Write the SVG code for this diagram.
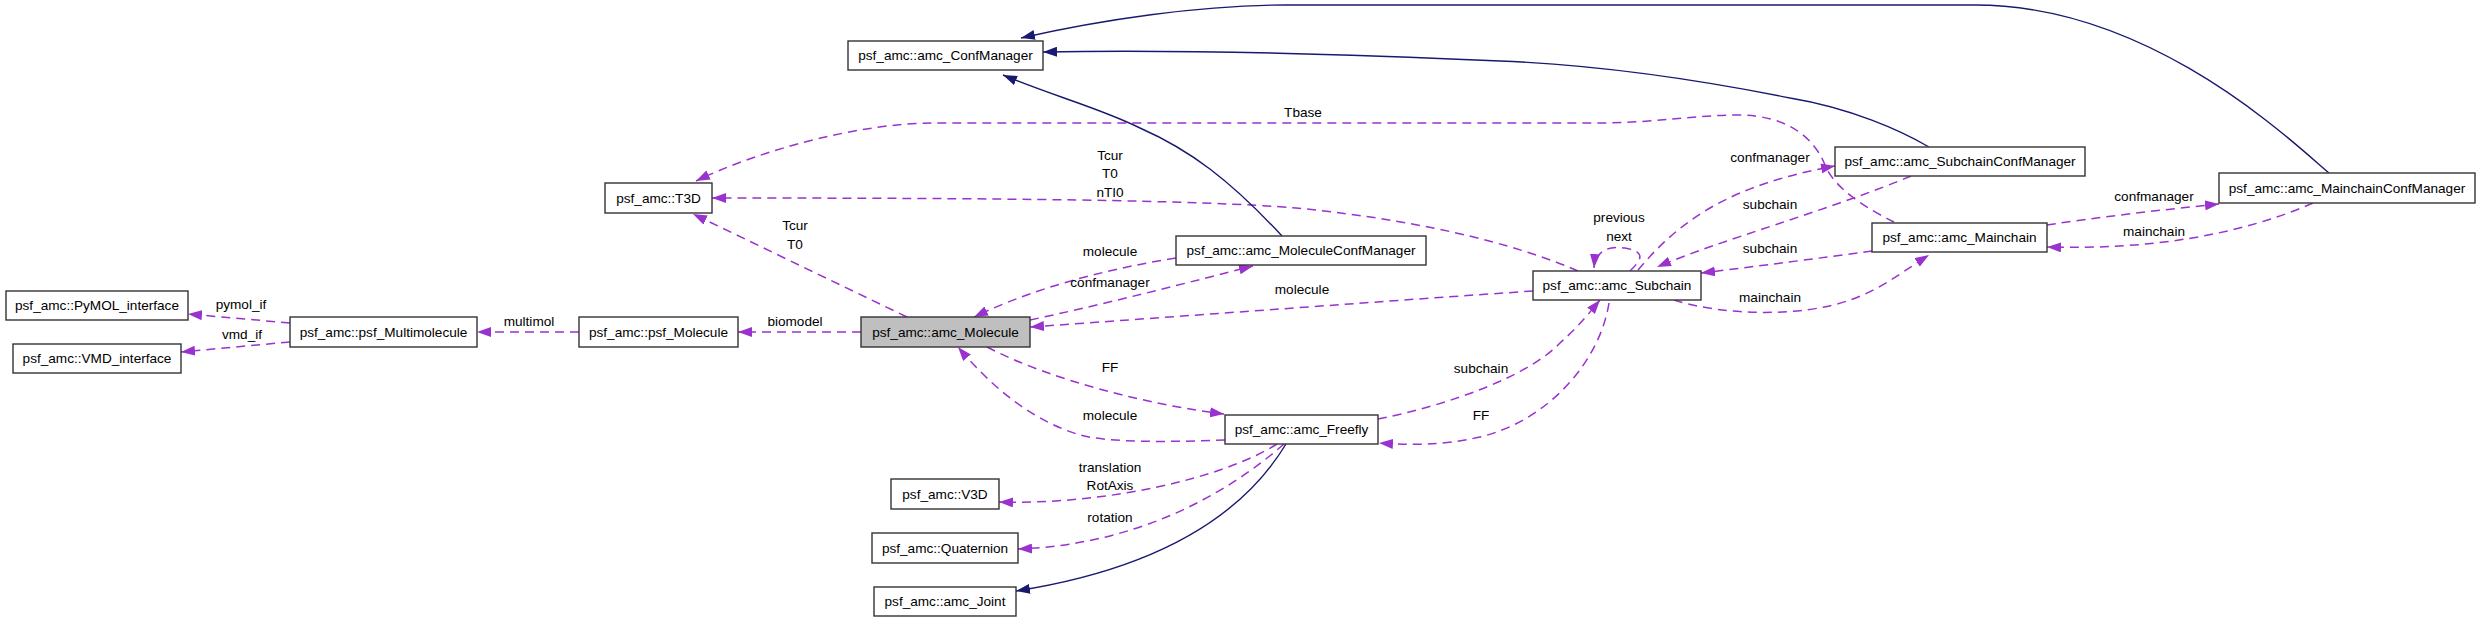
<svg xmlns="http://www.w3.org/2000/svg" width="2480" height="621" viewBox="0 0 2480 621">
<defs>
<style>
.box{fill:#ffffff;stroke:#333333;stroke-width:1.4}
.cur{fill:#bfbfbf;stroke:#333333;stroke-width:1.4}
text{font-family:"Liberation Sans",Arial,sans-serif;font-size:13.6px;fill:#000000;text-anchor:middle}
.dep{fill:none;stroke:#9a32cd;stroke-width:1.5;stroke-dasharray:9,6;marker-end:url(#pa)}
.inh{fill:none;stroke:#191970;stroke-width:1.4;marker-end:url(#na)}
</style>
<marker id="pa" viewBox="0 0 14 10" refX="14" refY="5" markerWidth="14" markerHeight="10" markerUnits="userSpaceOnUse" orient="auto"><path d="M0,0 L14,5 L0,10 z" fill="#9a32cd"/></marker>
<marker id="na" viewBox="0 0 14 10" refX="14" refY="5" markerWidth="14" markerHeight="10" markerUnits="userSpaceOnUse" orient="auto"><path d="M0,0 L14,5 L0,10 z" fill="#191970"/></marker>
</defs>
<rect width="2480" height="621" fill="#ffffff"/>
<g id="connectors">
<path class="dep" d="M290,323 L188,314"/>
<path class="dep" d="M290,342 L181,352"/>
<path class="dep" d="M579,332 L477,332"/>
<path class="dep" d="M861,332 L738,332"/>
<path class="dep" d="M907,317 L693,214"/>
<path class="dep" d="M1894,222 C1870,210 1835,190 1825,165 C1815,140 1790,115 1737,115 C1700,115 1650,123 1600,123 L934,123 C860,123 760,150 696,181"/>
<path class="dep" d="M1578,271 C1530,250 1440,222 1296,208 C1200,200 1000,198 712,198"/>
<path class="inh" d="M1929,147 C1900,130 1850,108 1790,98 C1700,80 1600,65 1500,61 C1300,52 1150,50 1043,52"/>
<path class="inh" d="M2329,173 C2290,140 2150,5 1975,5 L1286,5 C1200,5 1100,20 1021,38"/>
<path class="inh" d="M1282,236 C1230,180 1190,150 1140,128 C1100,108 1050,95 1003,75"/>
<path class="dep" d="M1176,258 C1100,270 1030,290 974,317"/>
<path class="dep" d="M1030,320 C1110,303 1190,282 1253,266"/>
<path class="dep" d="M1533,291 C1400,300 1200,315 1030,327"/>
<path class="dep" d="M987,347 C1050,380 1150,405 1224,414"/>
<path class="dep" d="M1225,440 C1170,442 1110,443 1080,435 C1030,420 990,385 958,347"/>
<path class="dep" d="M1378,419 C1450,405 1530,375 1560,343 C1580,325 1590,312 1600,300"/>
<path class="dep" d="M1609,303 C1600,360 1550,420 1480,437 C1440,446 1410,445 1379,443"/>
<path class="dep" d="M1277,444 C1220,480 1100,505 999,502"/>
<path class="dep" d="M1284,444 C1220,500 1130,545 1018,549"/>
<path class="inh" d="M1286,444 C1240,520 1150,570 1016,591"/>
<path class="dep" d="M1638,270 C1680,220 1730,185 1835,166"/>
<path class="dep" d="M1911,176 C1830,210 1720,240 1657,267"/>
<path class="dep" d="M1630,271 C1640,261 1648,252 1625,248 C1605,245 1595,254 1594,268"/>
<path class="dep" d="M1872,251 C1820,258 1760,266 1701,273"/>
<path class="dep" d="M1674,300 C1720,315 1800,318 1850,300 C1880,290 1905,270 1929,255"/>
<path class="dep" d="M2047,225 C2100,217 2160,210 2219,204"/>
<path class="dep" d="M2313,203 C2240,235 2150,250 2047,247"/>
<text x="241" y="309">pymol_if</text>
<text x="242" y="339">vmd_if</text>
<text x="529" y="326">multimol</text>
<text x="795" y="326">biomodel</text>
<text x="795" y="230">Tcur</text>
<text x="795" y="249">T0</text>
<text x="1303" y="117">Tbase</text>
<text x="1110" y="160">Tcur</text>
<text x="1110" y="178">T0</text>
<text x="1110" y="197">nTI0</text>
<text x="1110" y="256">molecule</text>
<text x="1110" y="287">confmanager</text>
<text x="1302" y="294">molecule</text>
<text x="1110" y="372">FF</text>
<text x="1481" y="373">subchain</text>
<text x="1110" y="420">molecule</text>
<text x="1481" y="420">FF</text>
<text x="1110" y="472">translation</text>
<text x="1110" y="490">RotAxis</text>
<text x="1110" y="522">rotation</text>
<text x="1770" y="162">confmanager</text>
<text x="1770" y="209">subchain</text>
<text x="1619" y="222">previous</text>
<text x="1619" y="241">next</text>
<text x="1770" y="253">subchain</text>
<text x="1770" y="302">mainchain</text>
<text x="2154" y="201">confmanager</text>
<text x="2154" y="236">mainchain</text>
</g>
<g id="n_pymol"><rect class="box" x="6" y="291" width="182" height="29"/><text x="97" y="310">psf_amc::PyMOL_interface</text></g>
<g id="n_vmd"><rect class="box" x="13" y="344" width="168" height="29"/><text x="97" y="363">psf_amc::VMD_interface</text></g>
<g id="n_multimol"><rect class="box" x="290" y="317" width="187" height="30"/><text x="383.5" y="337">psf_amc::psf_Multimolecule</text></g>
<g id="n_psfmol"><rect class="box" x="579" y="317" width="159" height="30"/><text x="658.5" y="337">psf_amc::psf_Molecule</text></g>
<g id="n_amcmol"><rect class="cur" x="861" y="317" width="169" height="30"/><text x="945.5" y="337">psf_amc::amc_Molecule</text></g>
<g id="n_t3d"><rect class="box" x="605" y="183" width="107" height="30"/><text x="658.5" y="203">psf_amc::T3D</text></g>
<g id="n_confmgr"><rect class="box" x="848" y="41" width="195" height="29"/><text x="945.5" y="60">psf_amc::amc_ConfManager</text></g>
<g id="n_molconf"><rect class="box" x="1176" y="236" width="250" height="29"/><text x="1301" y="255">psf_amc::amc_MoleculeConfManager</text></g>
<g id="n_subchain"><rect class="box" x="1533" y="271" width="168" height="29"/><text x="1617" y="290">psf_amc::amc_Subchain</text></g>
<g id="n_subconf"><rect class="box" x="1835" y="147" width="250" height="29"/><text x="1960" y="166">psf_amc::amc_SubchainConfManager</text></g>
<g id="n_mainchain"><rect class="box" x="1872" y="223" width="175" height="29"/><text x="1959.5" y="242">psf_amc::amc_Mainchain</text></g>
<g id="n_mainconf"><rect class="box" x="2219" y="173" width="256" height="30"/><text x="2347" y="193">psf_amc::amc_MainchainConfManager</text></g>
<g id="n_freefly"><rect class="box" x="1225" y="415" width="153" height="29"/><text x="1301.5" y="434">psf_amc::amc_Freefly</text></g>
<g id="n_v3d"><rect class="box" x="891" y="479" width="108" height="30"/><text x="945" y="499">psf_amc::V3D</text></g>
<g id="n_quat"><rect class="box" x="872" y="533" width="146" height="30"/><text x="945" y="553">psf_amc::Quaternion</text></g>
<g id="n_joint"><rect class="box" x="874" y="587" width="142" height="29"/><text x="945" y="606">psf_amc::amc_Joint</text></g>
</svg>
